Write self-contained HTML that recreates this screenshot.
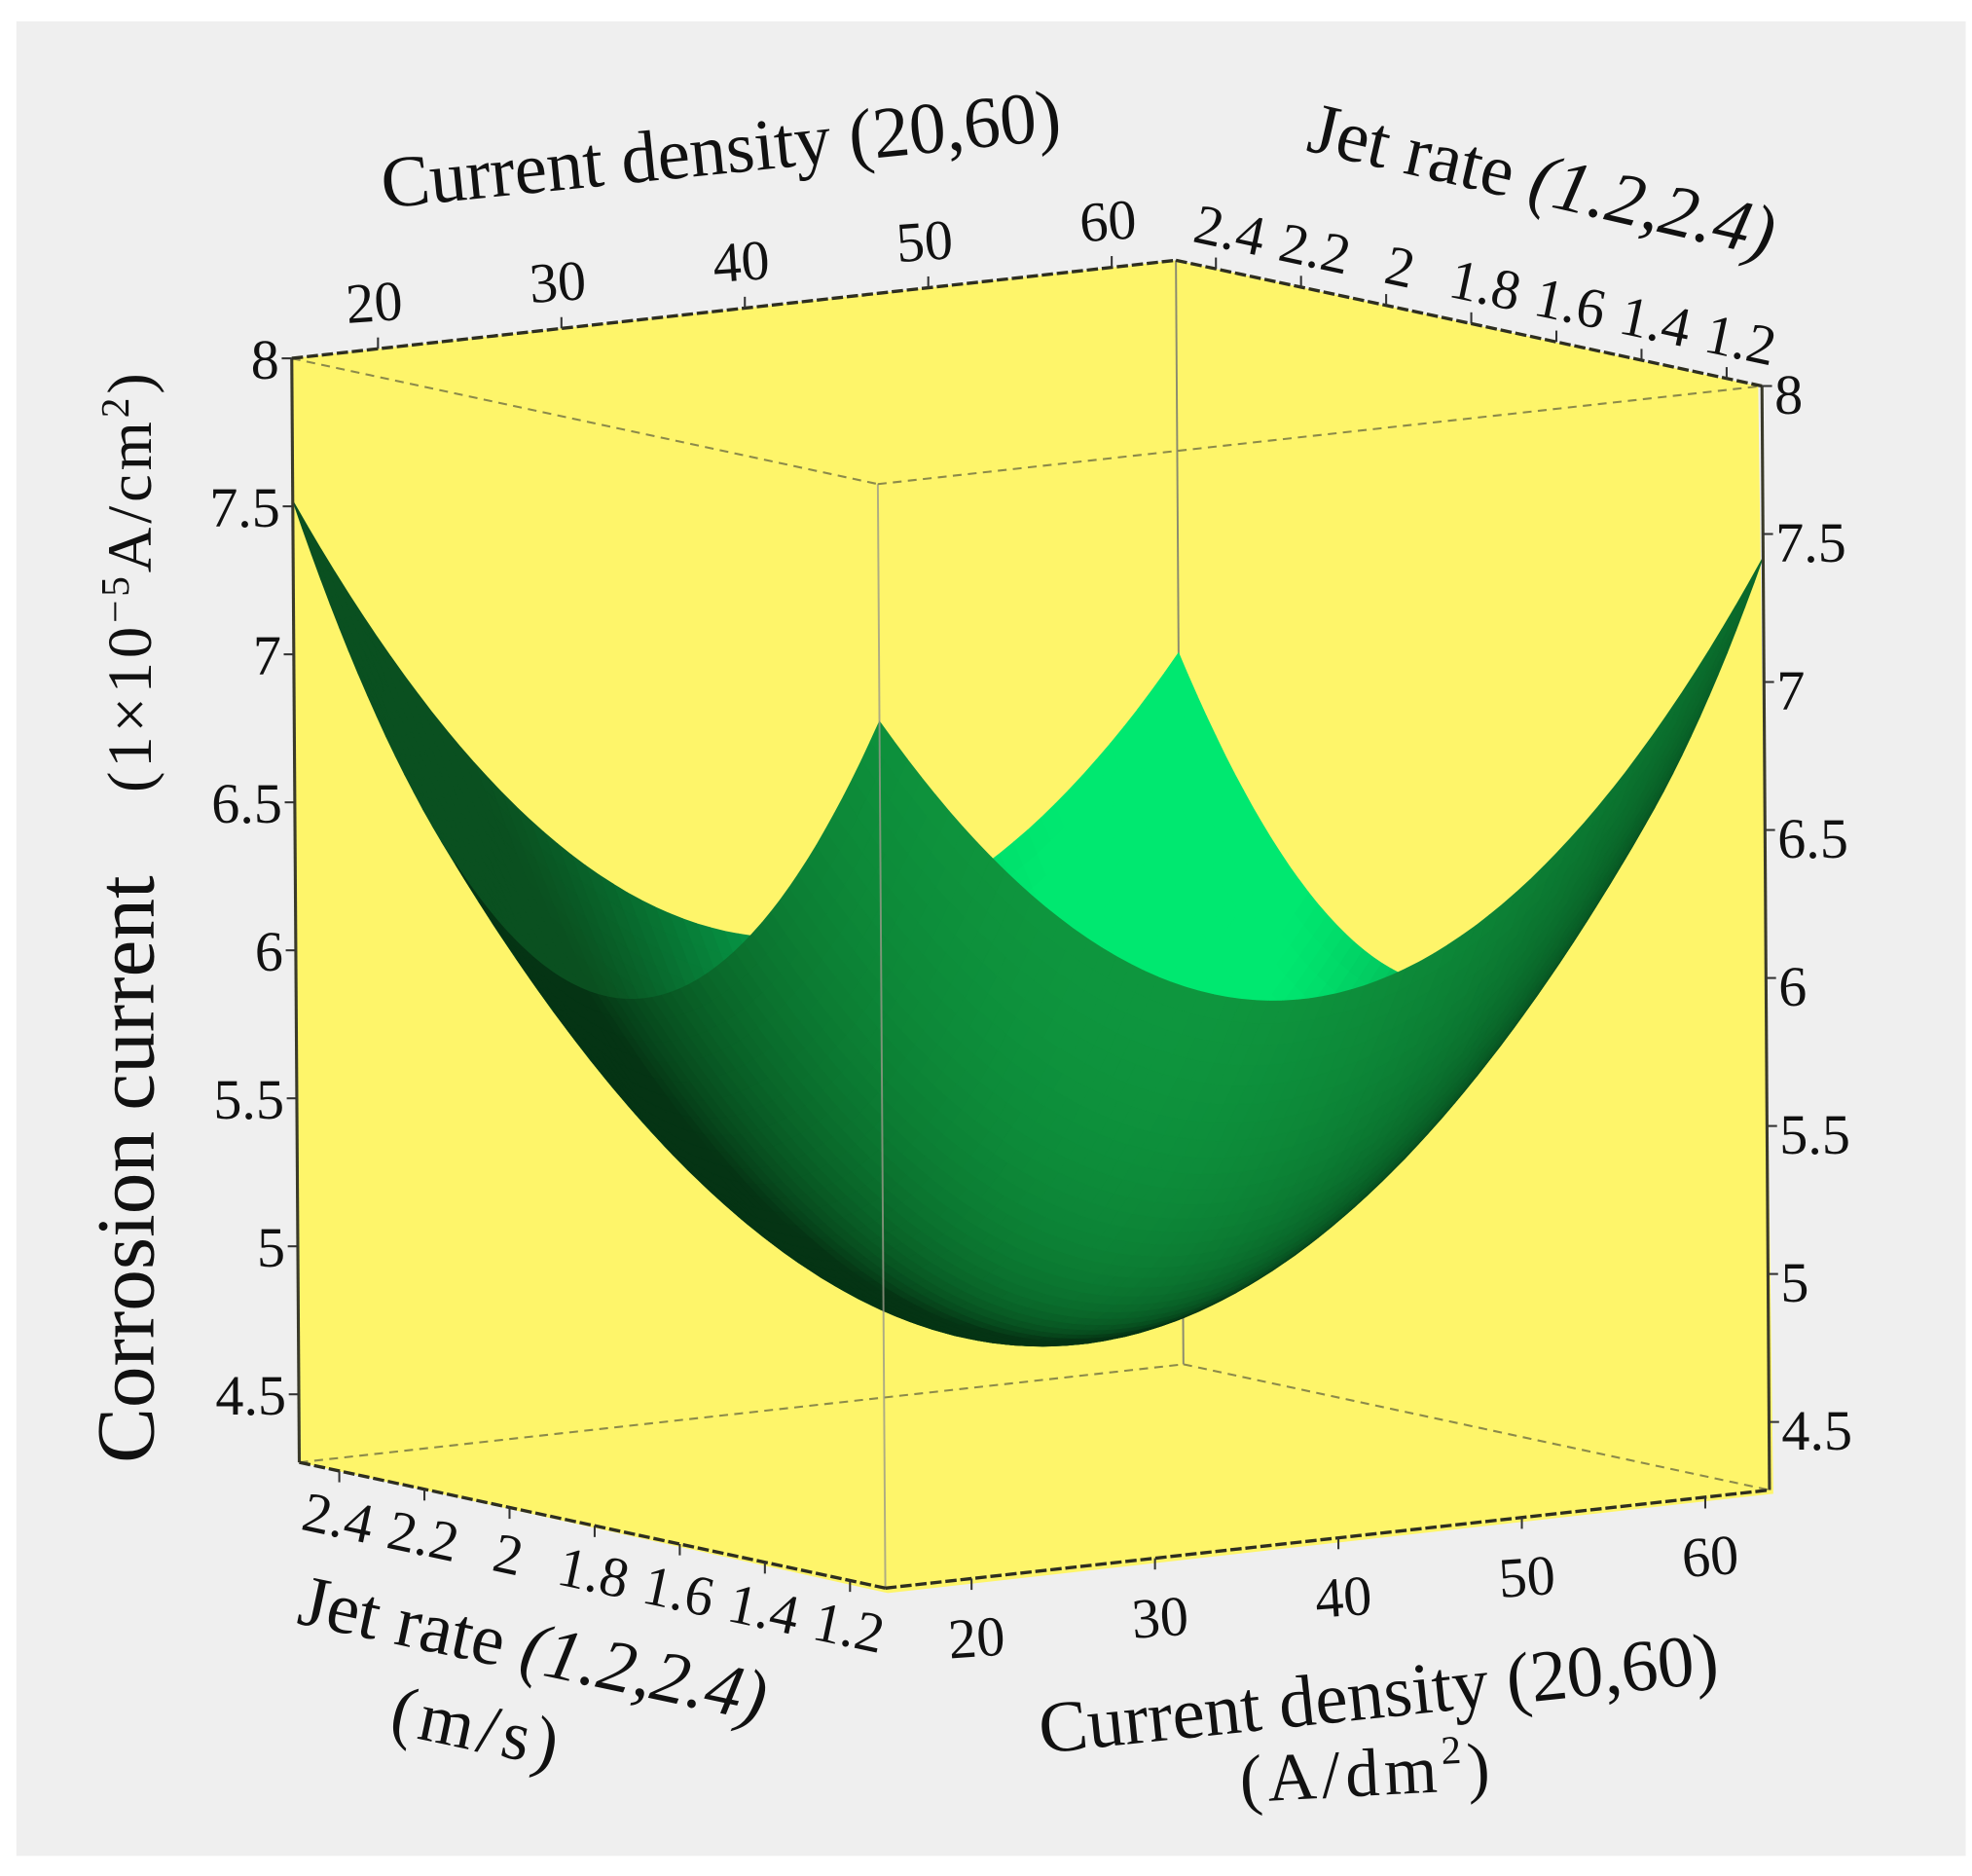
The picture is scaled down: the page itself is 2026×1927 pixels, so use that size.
<!DOCTYPE html>
<html><head><meta charset="utf-8"><style>
html,body{margin:0;padding:0;background:#fff;}
svg{display:block;}
text{font-family:"Liberation Serif",serif;fill:#111;}
</style></head><body>
<svg id="chart" width="2026" height="1927" viewBox="0 0 1568 1492" preserveAspectRatio="none" xmlns="http://www.w3.org/2000/svg">
<rect x="13" y="17" width="1550" height="1459" fill="#efefef"/>
<polygon points="232,285 935,207 1398,307 1410,1188 706,1267 238,1163" fill="#fef56a"/>
<g id="back"></g>
<g id="surf"></g>
<g id="front"></g>
<g id="ticks"></g>
<g id="labels"></g>
<text x="0" y="0" font-size="58" text-anchor="middle" transform="translate(575,138) rotate(-5.8)">Current density (20,60)</text>
<text x="0" y="0" font-size="58" text-anchor="middle" transform="translate(1222,162) rotate(13)">Jet rate <tspan font-style="italic">(1.2,2.4)</tspan></text>
<text x="0" y="0" font-size="58" text-anchor="middle" transform="translate(420,1330) rotate(12)">Jet rate <tspan font-style="italic">(1.2,2.4)</tspan></text>
<text x="0" y="0" font-size="56" letter-spacing="4" text-anchor="middle" transform="translate(376,1392) rotate(12)">(m/s)</text>
<text x="0" y="0" font-size="58" text-anchor="middle" transform="translate(1098,1366) rotate(-6)">Current density (20,60)</text>
<text x="0" y="0" font-size="54" letter-spacing="4" text-anchor="middle" transform="translate(1088,1428) rotate(-3)">(A/dm<tspan font-size="32" dy="-22">2</tspan><tspan dy="22">)</tspan></text>
<text x="0" y="0" font-size="66" text-anchor="middle" transform="translate(122,930) rotate(-90)">Corrosion current</text>
<text x="0" y="0" font-size="50" letter-spacing="3" text-anchor="middle" transform="translate(120,462) rotate(-90)">(1×10<tspan font-size="32" dy="-18">−5</tspan><tspan dy="18">A/cm</tspan><tspan font-size="32" dy="-18">2</tspan><tspan dy="18">)</tspan></text>
</svg>
<script>
const cdTicks = [20, 30, 40, 50, 60];
const jetTicks = [2.4, 2.2, 2.0, 1.8, 1.6, 1.4, 1.2];
const zTicks = [8, 7.5, 7, 6.5, 6, 5.5, 5, 4.5];
const gridCD = [20, 30, 40, 50, 60];
const gridJet = [2.4, 2.1, 1.8, 1.5, 1.2];
const zJet24 = [6.67, 5.91, 5.57, 5.64, 6.13];
const zJet21 = [5.90, 5.19, 4.89, 5.02, 5.55];
const zJet18 = [5.62, 4.96, 4.71, 4.88, 5.46];
const zJet15 = [5.82, 5.21, 5.01, 5.23, 5.86];
const zJet12 = [6.52, 5.95, 5.80, 6.07, 6.75];
const gridZ = [zJet24, zJet21, zJet18, zJet15, zJet12];

const NS = "http://www.w3.org/2000/svg";
const CD_MIN = 15.3, CD_MAX = 63.5, JET_BACK = 2.494, JET_FRONT = 1.117, Z_TOP = 8, Z_BOT = 4.27;
function uN(cd){ return (cd - CD_MIN) / (CD_MAX - CD_MIN); }
function vN(j){ return (JET_BACK - j) / (JET_BACK - JET_FRONT); }
function proj(u, v, z){
  return [232 + 703*u + 466*v + 1.6*(Z_TOP - z), 285 - 78*u + 100*v + 235.4*(Z_TOP - z)];
}
function mk(tag, attrs, parent){
  const e = document.createElementNS(NS, tag);
  for (const k in attrs) e.setAttribute(k, attrs[k]);
  parent.appendChild(e); return e;
}

// least-squares quadratic fit of the grid
const rows = [], rhs = [];
gridJet.forEach((j, vi) => gridCD.forEach((c, ui) => {
  const u = uN(c), v = vN(j);
  rows.push([1, u, v, u*u, v*v, u*v]); rhs.push(gridZ[vi][ui]);
}));
const M = [], b = [];
for (let i = 0; i < 6; i++){ M.push([]); b.push(0);
  for (let k = 0; k < 6; k++){ let s = 0; rows.forEach(r => s += r[i]*r[k]); M[i].push(s); }
  rows.forEach((r, n) => b[i] += r[i]*rhs[n]);
}
for (let i = 0; i < 6; i++){
  let p = i; for (let r = i+1; r < 6; r++) if (Math.abs(M[r][i]) > Math.abs(M[p][i])) p = r;
  [M[i], M[p]] = [M[p], M[i]]; [b[i], b[p]] = [b[p], b[i]];
  for (let r = 0; r < 6; r++){ if (r === i) continue; const f = M[r][i]/M[i][i];
    for (let k = i; k < 6; k++) M[r][k] -= f*M[i][k]; b[r] -= f*b[i]; }
}
const co = b.map((x, i) => x / M[i][i]);
function zf(u, v){ return co[0] + co[1]*u + co[2]*v + co[3]*u*u + co[4]*v*v + co[5]*u*v; }
function gu(u, v){ return co[1] + 2*co[3]*u + co[5]*v; }
function gv(u, v){ return co[2] + 2*co[4]*v + co[5]*u; }

const back = document.getElementById('back');
function line(p, q, attrs, parent, name){
  const l = mk('line', Object.assign({x1:p[0], y1:p[1], x2:q[0], y2:q[1]}, attrs), parent);
  
  
  return l;
}
const dashInner = {stroke:'#8c8a4a', 'stroke-width':1.6, 'stroke-dasharray':'7 5'};
line(proj(0,0,Z_BOT), proj(1,0,Z_BOT), dashInner, back, 'floor-back-left-edge');
line(proj(1,0,Z_BOT), proj(1,1,Z_BOT), dashInner, back, 'floor-back-right-edge');
line(proj(1,0,Z_TOP), proj(1,0,Z_BOT), {stroke:'#8a8a70','stroke-width':1.5}, back, 'back-vertical-edge');

// surface
const surf = document.getElementById('surf');
const N = 64, D = [-109536, 165611, 106648];
const Lout = [-0.3, 1, 1.2], Lin = [-1, 1, 0.8];
function lerp(a, b, s){ return a.map((x, i) => Math.round(x + (b[i]-x)*s)); }
function dotn(n, L){ return (n[0]*L[0] + n[1]*L[1] + n[2]*L[2]) / (Math.hypot(...n)*Math.hypot(...L)); }
const quads = [];
for (let i = 0; i < N; i++) for (let k = 0; k < N; k++){
  const u0 = i/N, u1 = (i+1)/N, v0 = k/N, v1 = (k+1)/N, uc = (u0+u1)/2, vc = (v0+v1)/2;
  const zc = zf(uc, vc);
  const n = [-gu(uc,vc), -gv(uc,vc), 1];
  const side = (n[0]*D[0] + n[1]*D[1] + n[2]*D[2]) > 0 ? 1 : -1;
  const nn = n.map(x => x*side);
  let col;
  if (side > 0){
    let t = Math.max(0, Math.min(1, (dotn(nn, Lin) - 0.2) / 0.72));
    col = lerp([10, 80, 32], [0, 232, 112], Math.pow(t, 1.4));
  } else {
    let t = Math.max(0, Math.min(1, dotn(nn, Lout) / 0.5));
    col = lerp([5, 52, 20], [14, 150, 62], Math.pow(t, 0.9));
  }
  const depth = uc*D[0] + vc*D[1] + zc*D[2];
  const pts = [proj(u0,v0,zf(u0,v0)), proj(u1,v0,zf(u1,v0)), proj(u1,v1,zf(u1,v1)), proj(u0,v1,zf(u0,v1))];
  quads.push({depth, pts, col});
}
quads.sort((a, b) => a.depth - b.depth);
quads.forEach(q => {
  const c = 'rgb(' + q.col.join(',') + ')';
  const p = mk('polygon', {points: q.pts.map(p => p[0].toFixed(1) + ',' + p[1].toFixed(1)).join(' '), fill: c, stroke: c, 'stroke-width': 0.7}, surf);
  
  
});

const front = document.getElementById('front');
line(proj(0,1,Z_TOP), proj(0,1,Z_BOT), {stroke:'#9a9a8a','stroke-width':1.5,'stroke-opacity':0.8}, front, 'front-vertical-edge');
line(proj(0,0,Z_TOP), proj(0,1,Z_TOP), dashInner, front, 'top-front-left-edge');
line(proj(0,1,Z_TOP), proj(1,1,Z_TOP), dashInner, front, 'top-front-right-edge');
const outer = {stroke:'#3a3a2a', 'stroke-width':2.4};
line(proj(0,0,Z_TOP), proj(0,0,Z_BOT), outer, front, 'left-z-axis-line');
line(proj(1,1,Z_TOP), proj(1,1,Z_BOT), outer, front, 'right-z-axis-line');
const outerDash = {stroke:'#2e2e20', 'stroke-width':2.6, 'stroke-dasharray':'9 3'};
line(proj(0,0,Z_TOP), proj(1,0,Z_TOP), outerDash, front, 'top-current-density-axis-line');
line(proj(1,0,Z_TOP), proj(1,1,Z_TOP), outerDash, front, 'top-jet-rate-axis-line');
line(proj(0,0,Z_BOT), proj(0,1,Z_BOT), outerDash, front, 'bottom-jet-rate-axis-line');
line(proj(0,1,Z_BOT), proj(1,1,Z_BOT), outerDash, front, 'bottom-current-density-axis-line');

const ticks = document.getElementById('ticks'), labels = document.getElementById('labels');
const tk = {stroke:'#333', 'stroke-width':1.6};
function label(txt, x, y, rot, anchor, name){
  const t = mk('text', {x:0, y:0, 'font-size':45, 'text-anchor':anchor, transform:'translate(' + x.toFixed(1) + ',' + y.toFixed(1) + ') rotate(' + rot + ')'}, labels);
  t.textContent = txt;
  
  
}
zTicks.forEach(z => {
  const a = proj(0,0,z), c = proj(1,1,z);
  line(a, [a[0]-8, a[1]], tk, ticks, 'left-z-tick');
  line(c, [c[0]+8, c[1]], tk, ticks, 'right-z-tick');
  label(String(z), a[0]-10, a[1]+16, 0, 'end', 'left-z-tick-label');
  label(String(z), c[0]+10, c[1]+22, 0, 'start', 'right-z-tick-label');
});
cdTicks.forEach(c => {
  const u = uN(c);
  const a = proj(u,0,Z_TOP), d = proj(u,1,Z_BOT);
  line(a, [a[0], a[1]-9], tk, ticks, 'top-current-density-tick');
  line(d, [d[0], d[1]+9], tk, ticks, 'bottom-current-density-tick');
  label(String(c), a[0]-2, a[1]-22, -4, 'middle', 'top-current-density-tick-label');
  label(String(c), d[0]+5, d[1]+62, -4, 'middle', 'bottom-current-density-tick-label');
});
jetTicks.forEach(j => {
  const v = vN(j);
  const a = proj(1,v,Z_TOP), d = proj(0,v,Z_BOT);
  line(a, [a[0], a[1]-9], tk, ticks, 'top-jet-rate-tick');
  line(d, [d[0], d[1]+9], tk, ticks, 'bottom-jet-rate-tick');
  const txt = j.toFixed(1).replace('2.0', '2');
  label(txt, a[0]+8, a[1]-16, 12, 'middle', 'top-jet-rate-tick-label');
  label(txt, d[0]-4, d[1]+52, 12, 'middle', 'bottom-jet-rate-tick-label');
});
</script>
</body></html>
